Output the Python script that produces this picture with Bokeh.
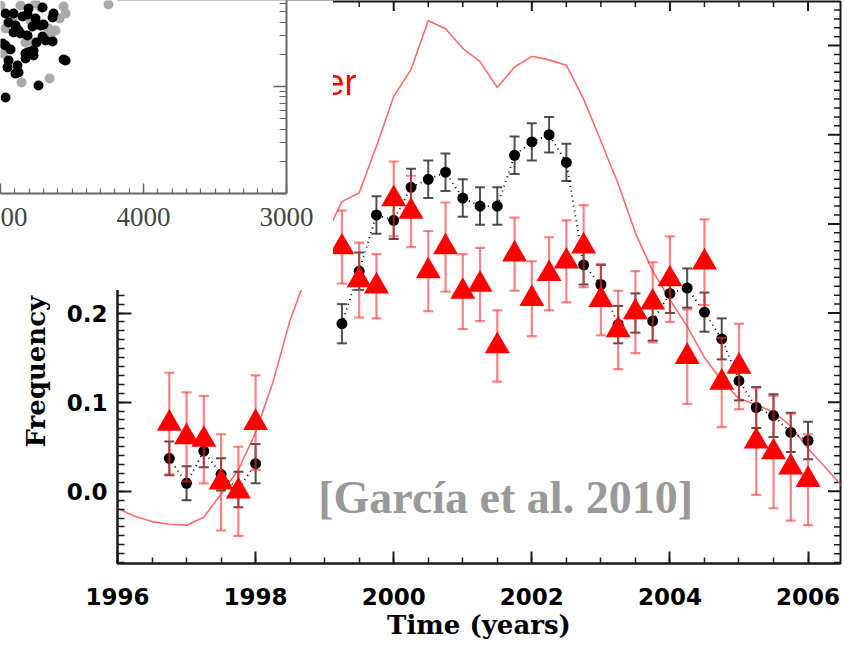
import numpy as np
from bokeh.plotting import figure
from bokeh.models import (Range1d, Label, Title, SingleIntervalTicker, FixedTicker,
                          NumeralTickFormatter)
from bokeh.embed import file_html
from bokeh.resources import INLINE

# ---------------- main panel data ----------------
black_t = [1996.75, 1997.0, 1997.25, 1997.5, 1997.75, 1998.0,
           1999.25, 1999.5, 1999.75, 2000.0, 2000.25, 2000.5, 2000.75,
           2001.0, 2001.25, 2001.5, 2001.75, 2002.0, 2002.25, 2002.5, 2002.75,
           2003.0, 2003.25, 2003.5, 2003.75, 2004.0, 2004.25, 2004.5, 2004.75,
           2005.0, 2005.25, 2005.5, 2005.75, 2006.0]
black_f = [0.037, 0.009, 0.045, 0.019, 0.002, 0.031,
           0.188, 0.247, 0.310, 0.304, 0.341, 0.350, 0.358,
           0.329, 0.320, 0.320, 0.377, 0.392, 0.400, 0.369, 0.254,
           0.232, 0.187, 0.200, 0.191, 0.222, 0.228, 0.201, 0.171,
           0.124, 0.094, 0.085, 0.066, 0.057]
black_err = [0.019, 0.019, 0.018, 0.018, 0.020, 0.022,
             0.022, 0.021, 0.021, 0.021, 0.021, 0.021, 0.021,
             0.021, 0.021, 0.021, 0.021, 0.021, 0.020, 0.021, 0.022,
             0.022, 0.021, 0.022, 0.022, 0.022, 0.022, 0.022, 0.023,
             0.022, 0.023, 0.024, 0.022, 0.021]

red_t = black_t
red_f = [0.076, 0.061, 0.058, 0.010, 0.000, 0.077,
         0.274, 0.237, 0.230, 0.328, 0.314, 0.247, 0.274,
         0.224, 0.232, 0.163, 0.266, 0.216, 0.244, 0.258, 0.275,
         0.215, 0.181, 0.201, 0.212, 0.238, 0.151, 0.257, 0.122,
         0.140, 0.056, 0.044, 0.027, 0.013]
red_err = [0.057, 0.050, 0.049, 0.054, 0.050, 0.053,
           0.041, 0.042, 0.036, 0.042, 0.040, 0.045, 0.050,
           0.042, 0.041, 0.040, 0.041, 0.042, 0.041, 0.046, 0.046,
           0.040, 0.044, 0.046, 0.045, 0.048, 0.053, 0.048, 0.050,
           0.048, 0.060, 0.063, 0.060, 0.051]

curve_t = [1996.0, 1996.25, 1996.5, 1996.75, 1997.0, 1997.25, 1997.5, 1997.75,
           1998.0, 1998.25, 1998.5, 1998.75, 1999.0, 1999.25, 1999.5, 1999.75,
           2000.0, 2000.25, 2000.5, 2000.75, 2001.0, 2001.25, 2001.5, 2001.75,
           2002.0, 2002.25, 2002.5, 2002.75, 2003.0, 2003.25, 2003.5, 2003.75,
           2004.0, 2004.25, 2004.5, 2004.75, 2005.0, 2005.25, 2005.5, 2005.75,
           2006.0, 2006.25, 2006.5]
curve_f = [-0.019, -0.028, -0.034, -0.037, -0.038, -0.029, -0.003, 0.024,
           0.066, 0.122, 0.192, 0.245, 0.285, 0.325, 0.335, 0.387,
           0.443, 0.473, 0.528, 0.519, 0.497, 0.482, 0.453, 0.476,
           0.488, 0.484, 0.478, 0.440, 0.393, 0.345, 0.290, 0.247,
           0.215, 0.185, 0.150, 0.124, 0.104, 0.097, 0.089, 0.073,
           0.048, 0.027, 0.005]

x_major_ticks = [1996, 1998, 2000, 2002, 2004, 2006]
y_major_ticks = [0.0, 0.1, 0.2]

# ---------------- inset (HR-diagram fragment) data ----------------
ins_black_teff = [4965, 4909, 4811, 4706, 4629, 4755, 4846, 4895, 4776, 4706,
                  4909, 4636, 4986, 4930, 4825, 4769, 4944, 4951, 4881, 4895,
                  4559, 4545, 4734, 4965, 4860, 4811, 4790, 4685, 4944, 4804,
                  4874, 4748, 4825, 4769, 4874, 4965, 4699, 4811, 4636, 4720]
ins_black_y = [4.81, 4.81, 4.71, 5.47, 4.81, 4.32, 4.51, 3.72, 3.64, 2.93,
               3.20, 2.64, 2.52, 2.22, 2.03, 2.17, 1.75, 1.51, 1.57, 1.32,
               1.79, 1.75, 1.02, 0.79, 3.13, 2.08, 2.12, 2.69, 3.96, 5.36,
               3.34, 2.58, 1.83, 1.95, 1.35, 2.42, 3.79, 3.00, 4.42, 3.72]
ins_gray_teff = [4559, 4545, 4587, 4245, 4650, 4853, 4657, 4699, 4769, 4979,
                 4720, 4860, 4965, 4790, 4664, 4916, 5000, 4755, 4615, 4825]
ins_gray_y = [5.60, 4.81, 4.32, 5.84, 2.93, 1.09, 1.19, 3.72, 2.58, 2.03,
              5.47, 5.71, 3.48, 4.14, 3.48, 4.32, 5.71, 5.97, 3.34, 2.58]
ins_x_ticks = [5000, 4000, 3000]
ins_x_labels = {5000: "00", 4000: "4000", 3000: "3000"}   # "50" is cut off at the crop edge
ins_y_major = [0.1, 1.0]
ins_y_minor = [0.2, 0.3, 0.4, 0.5, 0.6, 0.7, 0.8, 0.9, 2, 3, 4, 5, 6]

AX = "#1a1a1a"
X0, X1 = 1996.0, 2006.47
Y0, Y1 = -0.081, 0.5495

# ---------------- main figure ----------------
p = figure(width=847, height=648, x_range=Range1d(X0, X1),
           y_range=Range1d(Y0, Y1), output_backend="svg",
           toolbar_location=None, min_border_left=117, min_border_right=7,
           min_border_top=1, min_border_bottom=85)
p.grid.visible = False
p.outline_line_color = AX
p.outline_line_width = 2
p.background_fill_color = "white"
p.border_fill_color = "white"

def style_axis(ax, maj, mnr):
    ax.axis_line_color = AX
    ax.axis_line_width = 2
    ax.major_tick_line_color = AX
    ax.major_tick_line_width = 2
    ax.minor_tick_line_color = AX
    ax.minor_tick_line_width = 1.5
    ax.major_tick_in = maj
    ax.major_tick_out = 0
    ax.minor_tick_in = mnr
    ax.minor_tick_out = 0

xa = p.xaxis[0]
xa.ticker = SingleIntervalTicker(interval=2, num_minor_ticks=4)
style_axis(xa, 12, 6)
xa.major_label_text_font = "DejaVu Sans"
xa.major_label_text_font_style = "bold"
xa.major_label_text_font_size = "23px"
xa.major_label_text_color = "black"
xa.major_label_standoff = 24
xa.axis_label = "Time (years)"
xa.axis_label_text_font = "DejaVu Serif"
xa.axis_label_text_font_style = "bold"
xa.axis_label_text_font_size = "26px"
xa.axis_label_text_color = "black"
xa.axis_label_standoff = 2

minor_y = [round(-0.08 + 0.01 * i, 2) for i in range(43)]
ya = p.yaxis[0]
ya.ticker = FixedTicker(ticks=y_major_ticks, minor_ticks=minor_y)
ya.bounds = (Y0, 0.349)
style_axis(ya, 14, 7)
ya.formatter = NumeralTickFormatter(format="0.0")
ya.major_label_text_font = "DejaVu Sans"
ya.major_label_text_font_style = "bold"
ya.major_label_text_font_size = "23px"
ya.major_label_text_color = "black"
ya.major_label_standoff = 10

p.add_layout(Title(text="Frequency", align="left", offset=116, standoff=26,
                   text_font="DejaVu Serif", text_font_style="bold",
                   text_font_size="26px", text_color="black"), "left")

# inward ticks on the top and right frame edges (half of each dash is clipped)
top_ticks = np.arange(X0, X1, 0.5)
top_major = np.isin(top_ticks, x_major_ticks)
p.scatter(top_ticks[top_major], Y1, marker="dash", angle=np.pi / 2, size=19,
          line_color=AX, line_width=2)
p.scatter(top_ticks[~top_major], Y1, marker="dash", angle=np.pi / 2, size=11,
          line_color=AX, line_width=1.5)
right_ticks = np.round(np.arange(-0.08, Y1, 0.01), 2)
right_major = np.isclose(np.round(right_ticks * 10) / 10, right_ticks)
p.scatter(X1, right_ticks[right_major], marker="dash", size=25,
          line_color=AX, line_width=2)
p.scatter(X1, right_ticks[~right_major], marker="dash", size=13,
          line_color=AX, line_width=1.5)

# red activity curve
p.line(curve_t, curve_f, line_color="#ff5a5a", line_width=1.6, line_alpha=0.9)

bt = np.array(black_t); bf = np.array(black_f); be = np.array(black_err)
rt = np.array(red_t); rf = np.array(red_f); re = np.array(red_err)

# black error bars
p.segment(bt, bf - be, bt, bf + be, line_color="#333333", line_width=2, line_alpha=0.85)
p.scatter(np.concatenate([bt, bt]), np.concatenate([bf - be, bf + be]), marker="dash",
          size=10, line_color="#333333", line_width=2, line_alpha=0.85)

# dotted connection, broken at the data gap
breaks = np.where(np.diff(bt) > 0.5)[0] + 1
for seg_t, seg_f in zip(np.split(bt, breaks), np.split(bf, breaks)):
    p.line(seg_t, seg_f, line_color="black", line_width=1.8, line_dash="1 4")

p.scatter(bt, bf, marker="circle", size=11, fill_color="black", line_color=None)

# red error bars and triangles
p.segment(rt, rf - re, rt, rf + re, line_color="#ff3030", line_width=2.2, line_alpha=0.6)
p.scatter(np.concatenate([rt, rt]), np.concatenate([rf - re, rf + re]), marker="dash",
          size=10, line_color="#ff3030", line_width=2.2, line_alpha=0.6)
p.scatter(rt, rf, marker="triangle", size=25, fill_color="#ff0000", line_color=None)

p.add_layout(Label(x=2001.62, y=-0.007, text="[García et al. 2010]",
                   text_font="Liberation Serif", text_font_style="bold",
                   text_font_size="46px", text_color="#999999",
                   text_align="center", text_baseline="alphabetic"))
p.add_layout(Label(x=1999.46, y=0.459, text="er", text_font="Liberation Sans",
                   text_font_size="36px", text_color="#ff0000",
                   text_align="right", text_baseline="alphabetic"))

# ---------------- inset figure (overlay, top-left) ----------------
ins = figure(width=333, height=290, x_range=Range1d(5000, 3000),
             y_range=Range1d(0.1, 6.365), y_axis_type="log",
             y_axis_location="right", output_backend="svg", toolbar_location=None,
             min_border_left=0, min_border_top=0, min_border_right=47,
             min_border_bottom=97)
ins.grid.visible = False
ins.outline_line_color = None
ins.background_fill_color = "white"
ins.border_fill_color = "white"

ix = ins.xaxis[0]
ix.ticker = FixedTicker(ticks=ins_x_ticks,
                        minor_ticks=list(range(3000, 5001, 100)))
ix.major_label_overrides = ins_x_labels
iy = ins.yaxis[0]
iy.ticker = FixedTicker(ticks=ins_y_major, minor_ticks=ins_y_minor)
for ax in (ix, iy):
    ax.axis_line_color = "#666666"
    ax.axis_line_width = 2
    ax.major_tick_line_color = "#666666"
    ax.minor_tick_line_color = "#666666"
    ax.major_tick_line_width = 1.5
    ax.minor_tick_line_width = 1.2
    ax.major_tick_out = 0
    ax.minor_tick_out = 0
ix.major_tick_in = 10
ix.minor_tick_in = 5
ix.major_label_text_font = "Liberation Serif"
ix.major_label_text_font_size = "27px"
ix.major_label_text_color = "#444444"
ix.major_label_standoff = 14
iy.major_tick_in = 13
iy.minor_tick_in = 7
iy.major_label_text_font_size = "12px"
iy.major_label_text_color = None
iy.major_label_standoff = 0

ins.scatter(ins_gray_teff, ins_gray_y, marker="circle", size=10,
            fill_color="#aaaaaa", line_color=None)
ins.scatter(ins_black_teff, ins_black_y, marker="circle", size=10,
            fill_color="black", line_color=None)

ins.styles = {"position": "absolute", "left": "0px", "top": "0px", "z-index": "10"}

open("out.html", "w").write(file_html([p, ins], INLINE))
